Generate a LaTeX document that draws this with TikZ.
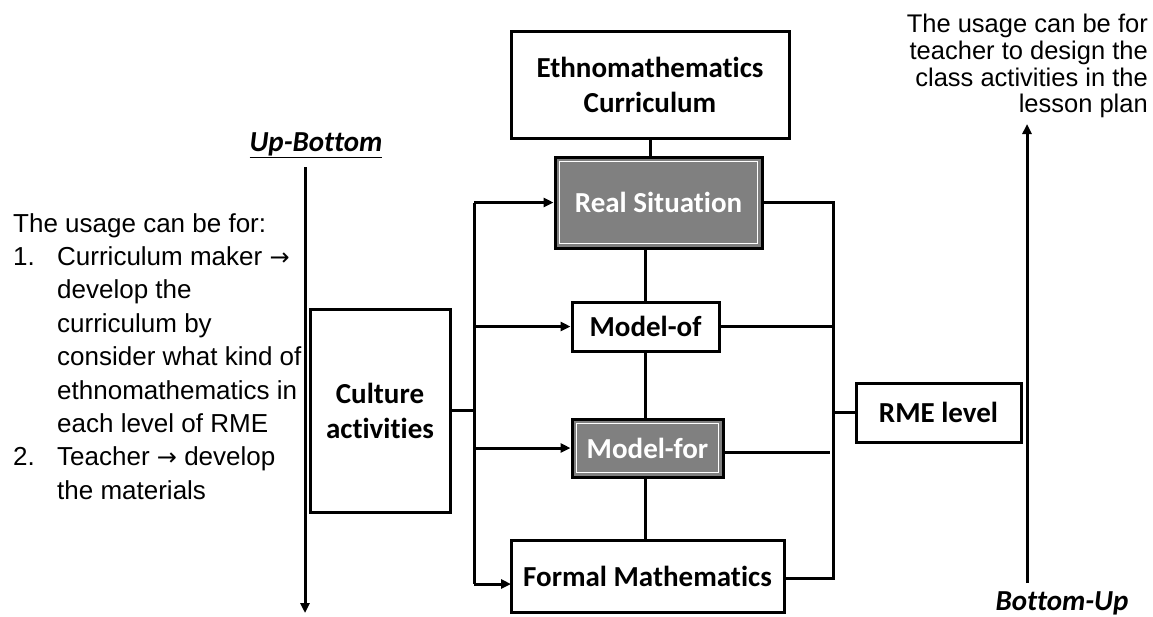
\documentclass[tikz,border=0pt]{standalone}
\usepackage{fontspec}
\setmainfont{Liberation Sans}
\newfontfamily\boxfont[Ligatures=NoCommon]{Carlito}
\newfontfamily\symfont{DejaVu Sans}
\newcommand{\rarr}{{\symfont\fontsize{24}{24}\selectfont →}}
\usetikzlibrary{arrows.meta}
\definecolor{boxgray}{HTML}{808080}
\tikzset{
  conn/.style={line width=3pt, line join=miter},
  tip/.style={-{Triangle[length=10pt,width=9pt]}},
  boxbase/.style={draw=black, line width=3pt, fill=white, inner sep=0pt,
    font=\boxfont\bfseries\fontsize{29}{35}\selectfont, align=center},
  graybox/.style={boxbase, fill=boxgray, text=white,
    path picture={\draw[white, line width=1.3pt]
      ([shift={(4.5pt,-4.5pt)}]path picture bounding box.north west) rectangle
      ([shift={(-4.5pt,4.5pt)}]path picture bounding box.south east);}},
  plaintext/.style={inner sep=0pt, align=left},
  dirlabel/.style={inner sep=0pt, font=\boxfont\bfseries\itshape\fontsize{29}{34}\selectfont}
}
\begin{document}
\begin{tikzpicture}[x=1pt,y=-1pt]
\useasboundingbox[fill=white] (0,0) rectangle (1153,616);

% boxes
\node[boxbase, minimum width=278pt, minimum height=107pt] (ethno) at (650,84.5) {Ethnomathematics\\Curriculum};
\node[graybox, minimum width=207pt, minimum height=91pt] (real) at (658.5,202.5) {Real Situation};
\node[boxbase, minimum width=147pt, minimum height=49pt] (modelof) at (645.5,326.5) {Model-of};
\node[graybox, minimum width=151pt, minimum height=58pt] (modelfor) at (647.5,448) {Model-for};
\node[boxbase, minimum width=273pt, minimum height=72pt] (formal) at (647.5,576) {Formal Mathematics};
\node[boxbase, minimum width=140pt, minimum height=203pt] (culture) at (380,410.5) {Culture\\activities};
\node[boxbase, minimum width=165pt, minimum height=59pt] (rme) at (938.5,412.5) {RME level};

% vertical chain
\draw[conn] (ethno.south) -- (ethno.south |- real.north);
\draw[conn] (modelof.north |- real.south) -- (modelof.north);
\draw[conn] (modelof.south) -- (modelof.south |- modelfor.north);
\draw[conn] (modelof.south |- modelfor.south) -- (modelof.south |- formal.north);

% left bus
\coordinate (lbtop) at (474,202.5);
\coordinate (lbbot) at (474,584);
\coordinate (lbmid) at (474,410.5);
\coordinate (fin) at (511,584);
\draw[conn] (lbtop) -- (lbbot);
\draw[conn] (culture.east) -- (lbmid);
\draw[conn,tip] (lbtop) -- (real.west);
\draw[conn,tip] (lbtop |- modelof.west) -- (modelof.west);
\draw[conn,tip] (lbtop |- modelfor.west) -- (modelfor.west);
\draw[conn,tip] (lbbot) -- (fin);

% right bus
\coordinate (rbtop) at (833,202.5);
\coordinate (rbbot) at (833,578);
\coordinate (fout) at (784,578);
\coordinate (mfend) at (830,452);
\coordinate (mfout) at (723,452);
\draw[conn] (real.east) -- (rbtop) -- (rbbot) -- (fout);
\draw[conn] (modelof.east) -- (rbtop |- modelof.east);
\draw[conn] (mfout) -- (mfend);
\draw[conn] (rbtop |- rme.west) -- (rme.west);

% direction arrows
\node[dirlabel] (upbottom) at (316,145) {\underline{Up-Bottom}};
\coordinate (ubtop) at (305,167);
\coordinate (ubbot) at (305,613);
\draw[conn,tip] (ubtop) -- (ubbot);

\node[dirlabel] (bottomup) at (1062,603) {Bottom-Up};
\coordinate (bubot) at (1027,583);
\coordinate (butop) at (1027,124);
\draw[conn,tip] (bubot) -- (butop);

% texts
\node[plaintext, anchor=north west, font=\fontsize{26}{33.4}\selectfont] (lefttext) at (13,213) {%
The usage can be for:\\
\makebox[44pt][l]{1.}Curriculum maker \rarr\\
\hspace*{44pt}develop the\\
\hspace*{44pt}curriculum by\\
\hspace*{44pt}consider what kind of\\
\hspace*{44pt}ethnomathematics in\\
\hspace*{44pt}each level of RME\\
\makebox[44pt][l]{2.}Teacher \rarr\ develop\\
\hspace*{44pt}the materials};

\node[inner sep=0pt, align=right, anchor=north east, font=\fontsize{25.5}{26.7}\selectfont] (righttext) at (1148,14) {%
The usage can be for\\
teacher to design the\\
class activities in the\\
lesson plan};
\end{tikzpicture}
\end{document}
